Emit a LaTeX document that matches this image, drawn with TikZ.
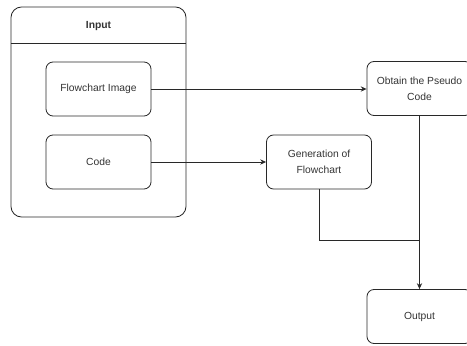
\documentclass[tikz,border=0pt]{standalone}
\usepackage{fontspec}
\setmainfont{Liberation Sans}
\usetikzlibrary{arrows.meta, positioning}
\definecolor{linegray}{RGB}{40,40,40}
\definecolor{textgray}{RGB}{51,51,51}

\begin{document}
\begin{tikzpicture}[x=0.03cm, y=-0.03cm, >={Stealth[length=5pt,width=4.5pt]},
  every node/.style={font=\fontsize{8.8}{13.5}\selectfont, text=textgray},
  stepbox/.style={draw=linegray, rounded corners=6pt, line width=0.7pt, minimum width=3.15cm, minimum height=1.62cm, align=center},
  flow/.style={draw=linegray, line width=0.7pt}]

\useasboundingbox (0,0) rectangle (467,346);
\clip (0,0) rectangle (467,346);

% Input container
\node[draw=linegray, rounded corners=9pt, line width=0.7pt, minimum width=5.25cm, minimum height=6.3cm] at (98.5,112) (inbox) {};
\node[font=\fontsize{8.8}{13.5}\selectfont\bfseries] at (98.5,26) (intitle) {Input};
\draw[flow] (inbox.west |- 0,43) -- (inbox.east |- 0,43);

% Inputs
\node[stepbox] at (98.5,89) (img) {Flowchart Image};
\node[stepbox] at (98.5,162) (code) {Code};

% Steps
\node[stepbox] at (319,162) (gen) {Generation of\\Flowchart};
\node[stepbox] at (419.5,88.5) (pseudo) {Obtain the Pseudo\\Code};
\node[stepbox] at (419.5,316.5) (out) {Output};

% Connections
\coordinate (join) at (pseudo.south |- 0,240);
\draw[flow,->] (img.east) -- (img.east -| pseudo.west);
\draw[flow,->] (code) -- (gen);
\draw[flow] (gen.south) |- (join);
\draw[flow,->] (pseudo) -- (out);
\end{tikzpicture}
\end{document}
